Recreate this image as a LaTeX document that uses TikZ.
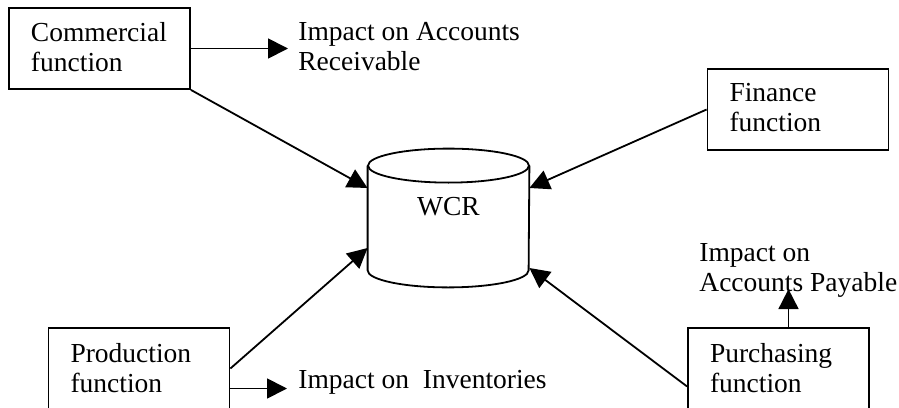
\documentclass[tikz,border=0pt]{standalone}
\usepackage{fontspec}
\setmainfont{Liberation Serif}
\usetikzlibrary{arrows.meta,calc}
\newcommand{\lowstrut}{\rule[-2pt]{0pt}{0pt}}
\begin{document}
\begin{tikzpicture}[x=0.5pt,y=-0.5pt,
  every node/.style={font=\fontsize{13.75pt}{15pt}\selectfont},
  fbox/.style={draw, line width=0.9pt, minimum width=90.5pt, minimum height=40.5pt,
    inner xsep=11pt, inner ysep=0pt, text width=68.5pt, align=left},
  caption/.style={inner sep=0pt, align=left, anchor=base west},
  outline/.style={line width=0.9pt},
  link/.style={line width=0.9pt, -{Triangle[length=10pt,width=10pt]}}]
\useasboundingbox (0,0) rectangle (899,407);
\clip (0,0) rectangle (899,407);

% function boxes
\node[fbox] (com)  at (99.5,48.5)  {Commercial\\function\lowstrut};
\node[fbox] (fin)  at (798,109.5)  {Finance\\function\lowstrut};
\node[fbox] (prod) at (139,368.5)  {Production\\function};
\node[fbox] (pur)  at (778.5,368.5) {Purchasing\\function};

% working capital requirement drum
\node[inner sep=0pt, minimum width=80.5pt, minimum height=69pt] (wcr) at (448.5,218) {};
\draw[outline] ($(wcr.north)+(0,17)$) ellipse [x radius=40.25pt, y radius=8.5pt];
\draw[outline] ($(wcr.north west)+(0,17)$) -- ($(wcr.south west)+(0,-17)$)
  arc[start angle=180, end angle=360, x radius=40.25pt, y radius=8.5pt]
  -- ($(wcr.north east)+(0,17)$);
\node[anchor=base, inner sep=0pt] (wcrtext) at (448.5,215) {WCR};

% impact captions (base = last line)
\node[caption] (recv) at (298,70)  {Impact on Accounts\\Receivable};
\node[caption] (inv)  at (298,388) {Impact on~~Inventories};
\node[caption] (pay)  at (699,291) {Impact on\\Accounts Payable};

% flows into the drum
\draw[link] (com.south east) -- ($(wcr.west)+(0,-30)$);
\draw[link] (fin.west) -- ($(wcr.east)+(0,-30)$);
\draw[link] (prod.east) -- ($(wcr.west)+(0,30)$);
\draw[link] ($(pur.west)+(0,18)$) -- ($(wcr.east)+(0,50)$);

% impacts
\draw[link] (com.east) -- ($(com.east -| recv.west)+(-10,0)$);
\draw[link] ($(prod.east)+(0,20)$) -- ($(prod.east -| inv.west)+(-11,20)$);
\draw[link] ($(pur.north)+(10,0)$) -- ($(pur.north)+(10,-38)$);
\end{tikzpicture}
\end{document}
